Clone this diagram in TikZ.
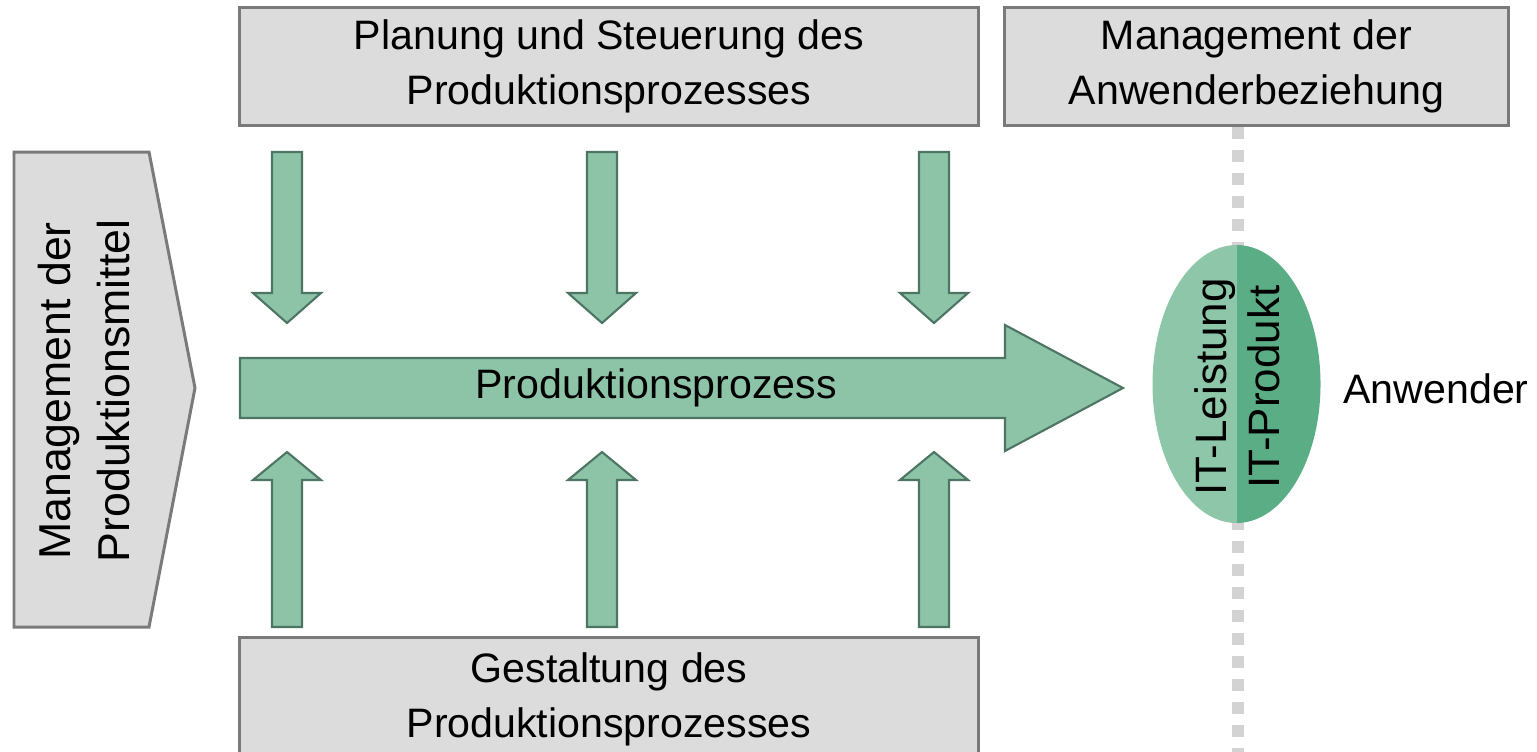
\documentclass[tikz,border=0pt]{standalone}
\usepackage{fontspec}
\setmainfont{Liberation Sans}
\usetikzlibrary{positioning}

\definecolor{boxgray}{HTML}{DCDCDC}
\definecolor{boxline}{HTML}{7A7A7A}
\definecolor{arrowgreen}{HTML}{8DC4A8}
\definecolor{arrowline}{HTML}{4D7563}
\definecolor{itlight}{HTML}{8DC6A9}
\definecolor{itdark}{HTML}{5BAD86}
\definecolor{dotgray}{HTML}{D3D3D3}

\begin{document}
\begin{tikzpicture}[x=0.01cm,y=-0.01cm,font=\fontsize{11.7}{15.6}\selectfont,
                    box/.style={draw=boxline, fill=boxgray, line width=0.85pt, align=center, inner sep=0pt},
                    blockarrow/.style={draw=arrowline, fill=arrowgreen, line width=0.6pt, line join=miter},
                    dotline/.style={draw=dotgray, line width=0.12cm, dash pattern=on 0.12cm off 0.11cm}]
                        \useasboundingbox (0,0) rectangle (1537,751);
                        \clip (0,0) rectangle (1537,751);
                        % boxes
                        \node[box, minimum width=7.38cm, minimum height=1.17cm] (plan) at (609,66.5)   {Planung und Steuerung des\\Produktionsprozesses};
                        \node[box, minimum width=5.03cm, minimum height=1.17cm] (anw)  at (1256.5,66.5) {Management der\\Anwenderbeziehung};
                        \node[box, minimum width=7.38cm, minimum height=1.22cm] (gest) at (609,699)    {Gestaltung des\\Produktionsprozesses};
                        \draw[box] (14,152) -- (149,152) -- (195,388) -- (149,627) -- (14,627) -- cycle;
                        \node[rotate=90, align=center, font=\fontsize{12.7}{17}\selectfont] (mittel) at (84,391) {Management der\\Produktionsmittel};
                        % main arrow
                        \draw[blockarrow] (240,358) -- (1005,358) -- (1005,325) -- (1123,388) -- (1005,451) -- (1005,418) -- (240,418) -- cycle;
                        \node (prozess) at (656,388) {Produktionsprozess};
                        % arrows from above
                        \draw[blockarrow] (287,152) ++(-15,0) -- ++(30,0) -- ++(0,141) -- ++(19,0) -- ++(-34,30) -- ++(-34,-30) -- ++(19,0) -- cycle;
                        \draw[blockarrow] (602,152) ++(-15,0) -- ++(30,0) -- ++(0,141) -- ++(19,0) -- ++(-34,30) -- ++(-34,-30) -- ++(19,0) -- cycle;
                        \draw[blockarrow] (934,152) ++(-15,0) -- ++(30,0) -- ++(0,141) -- ++(19,0) -- ++(-34,30) -- ++(-34,-30) -- ++(19,0) -- cycle;
                        % arrows from below
                        \draw[blockarrow] (287,627) ++(-15,0) -- ++(30,0) -- ++(0,-147) -- ++(19,0) -- ++(-34,-28) -- ++(-34,28) -- ++(19,0) -- cycle;
                        \draw[blockarrow] (602,627) ++(-15,0) -- ++(30,0) -- ++(0,-147) -- ++(19,0) -- ++(-34,-28) -- ++(-34,28) -- ++(19,0) -- cycle;
                        \draw[blockarrow] (934,627) ++(-15,0) -- ++(30,0) -- ++(0,-147) -- ++(19,0) -- ++(-34,-28) -- ++(-34,28) -- ++(19,0) -- cycle;
                        % user side
                        \coordinate (linebottom) at (1238,760);
                        \draw[dotline] (anw.south -| linebottom) -- (linebottom);
                        \begin{scope}
                            \clip (1236.5,384) ellipse (84 and 139);
                            \fill[itlight] (1150,240) rectangle (1237,530);
                            \fill[itdark]  (1237,240) rectangle (1325,530);
                        \end{scope}
                        \node[rotate=90, align=center, font=\fontsize{12.5}{15}\selectfont] (it) at (1237.5,387) {IT-Leistung\\IT-Produkt};
                        \node (user) at (1436,389) {Anwender};
\end{tikzpicture}
\end{document}
